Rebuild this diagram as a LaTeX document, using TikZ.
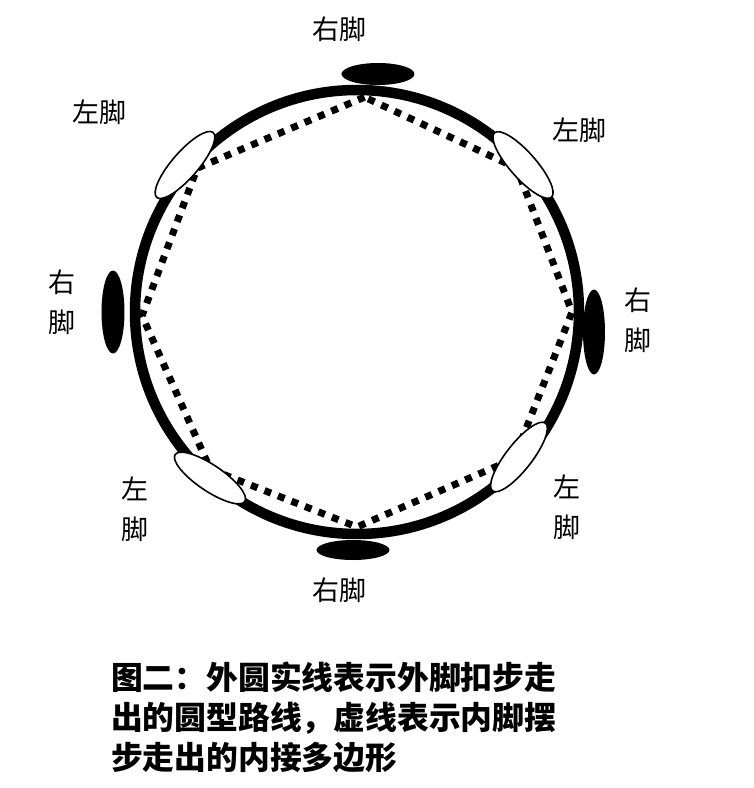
\documentclass[tikz,border=0pt]{standalone}
\usepackage{fontspec}
\newfontfamily\cjk{Noto Sans CJK SC}
\tikzset{
	fuss/.style={font=\cjk\fontsize{27}{40}\selectfont, align=center, inner sep=0pt},
	rechts/.style={fill=black},
	links/.style={fill=white, draw=black, line width=1.6pt},
}
\begin{document}
\begin{tikzpicture}[x=1pt, y=1pt]
	\useasboundingbox[fill=white] (-357,-476) rectangle (397,312);
	% Innenpolygon (Innenfuss)
	\draw[line width=7pt, dash pattern=on 7pt off 7.5pt]
		(88:215) -- (138:215) -- (181:215) -- (-133:215) -- (-90:215)
		-- (-43:215) -- (0:215) -- (42:215) -- cycle;
	% Aussenkreis
	\draw[line width=10.5pt] (0,0) circle (222);
	% rechte Fuesse
	\fill[rechts] (21,238) ellipse [x radius=36.5, y radius=11];
	\fill[rechts] (-244,0) ellipse [x radius=11.5, y radius=41.5];
	\fill[rechts] (237,-20) ellipse [x radius=11, y radius=42.5];
	\fill[rechts] (-4,-238) ellipse [x radius=36.5, y radius=10];
	% linke Fuesse
	\filldraw[links, rotate around={49:(-172,147)}] (-172,147) ellipse [x radius=43, y radius=13];
	\filldraw[links, rotate around={-48.5:(166,147)}] (166,147) ellipse [x radius=43, y radius=13];
	\filldraw[links, rotate around={52:(162,-145)}] (162,-145) ellipse [x radius=43, y radius=13];
	\filldraw[links, rotate around={-34:(-147,-166)}] (-147,-166) ellipse [x radius=42, y radius=13];
	% Beschriftung
	\node[fuss] (rOben) at (-17,283) {右脚};
	\node[fuss] (lObenL) at (-257,200) {左脚};
	\node[fuss] (lObenR) at (223,182) {左脚};
	\node[fuss] (rLinks) at (-295,10) {右\\脚};
	\node[fuss] (rRechts) at (281,-8) {右\\脚};
	\node[fuss] (lUntenL) at (-222,-197) {左\\脚};
	\node[fuss] (lUntenR) at (210,-195) {左\\脚};
	\node[fuss] (rUnten) at (-17,-278) {右脚};
	% Bildunterschrift
	\node[font=\cjk\bfseries\fontsize{31.8}{40}\selectfont, align=left, anchor=north west, inner sep=0pt] (titel) at (-246,-350)
		{图二：外圆实线表示外脚扣步走\\出的圆型路线，虚线表示内脚摆\\步走出的内接多边形};
\end{tikzpicture}
\end{document}
